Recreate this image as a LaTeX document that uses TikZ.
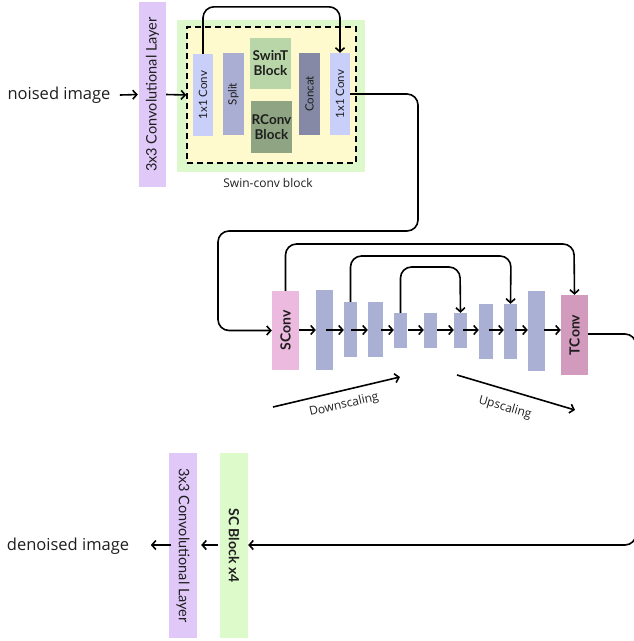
\documentclass[tikz,border=0pt]{standalone}
\usepackage{fontspec}
\usepackage{graphicx}
\setmainfont{Lato}
\newfontfamily\handfont{Open Sans}
\usetikzlibrary{arrows.meta,calc}
\definecolor{cPurple}{RGB}{224,200,248}
\definecolor{cGreenBg}{RGB}{221,248,203}
\definecolor{cYellow}{RGB}{255,250,205}
\definecolor{cLav}{RGB}{200,208,250}
\definecolor{cSplit}{RGB}{170,174,210}
\definecolor{cSwin}{RGB}{185,214,168}
\definecolor{cRconv}{RGB}{143,164,130}
\definecolor{cConcat}{RGB}{133,137,165}
\definecolor{cSconv}{RGB}{236,186,222}
\definecolor{cBar}{RGB}{170,176,212}
\definecolor{cTconv}{RGB}{210,155,190}
\definecolor{cSCB}{RGB}{220,250,202}
\definecolor{cText}{RGB}{30,30,30}
\begin{document}
\begin{tikzpicture}[x=1pt,y=-1pt,
  blk/.style={draw=none, inner sep=0pt, text=cText},
  medtxt/.style={font=\fontsize{11.5}{13}\selectfont},
  longtxt/.style={font=\fontsize{14.5}{16}\selectfont},
  boldtxt/.style={font=\bfseries\fontsize{13.5}{15}\selectfont},
  bigbold/.style={font=\bfseries\fontsize{14}{16}\selectfont},
  hand/.style={font=\handfont\fontsize{16.5}{19}\selectfont, text=cText},
  handsm/.style={font=\handfont\fontsize{12}{14}\selectfont, text=cText},
  conn/.style={line width=1.6pt, draw=black},
  arr/.style={conn, -{Straight Barb[length=4pt,width=9pt]}},
  rc/.style={rounded corners=11pt}
]
\useasboundingbox (0,0) rectangle (634,641);

% ---------------- top: input + swin-conv block ----------------
\node[hand] (noised) at (59,95) {noised image};
\node[blk, fill=cPurple, minimum width=27pt, minimum height=185pt, longtxt] (conv1) at (152.5,94.5)
      {\rotatebox{90}{3x3 Convolutional Layer}};

\node[blk, fill=cGreenBg, minimum width=188pt, minimum height=152pt] (swbg) at (271,96) {};
\node[draw=black, fill=cYellow, line width=1.6pt, dash pattern=on 6pt off 4pt,
      minimum width=169pt, minimum height=136pt, inner sep=0pt] (dash) at (271.5,95) {};
\node[handsm] (swlabel) at (268,183) {Swin-conv block};

\node[blk, fill=cLav, minimum width=20pt, minimum height=82pt, medtxt] (c1a) at (203,95)
      {\rotatebox{90}{1x1 Conv}};
\node[blk, fill=cSplit, minimum width=21pt, minimum height=82pt, medtxt] (split) at (233.5,94)
      {\rotatebox{90}{Split}};
\node[blk, fill=cSwin, minimum width=41pt, minimum height=51pt, boldtxt, align=center] (swint) at (270.5,63.5)
      {SwinT\\Block};
\node[blk, fill=cRconv, minimum width=41pt, minimum height=52pt, boldtxt, align=center] (rconv) at (271.5,127)
      {RConv\\Block};
\node[blk, fill=cConcat, minimum width=21pt, minimum height=82pt, medtxt] (concat) at (309.5,94)
      {\rotatebox{90}{Concat}};
\node[blk, fill=cLav, minimum width=20pt, minimum height=82pt, medtxt] (c1b) at (340,94)
      {\rotatebox{90}{1x1 Conv}};

\draw[arr, shorten >=1pt] (noised.east) ++(6,0) coordinate (nin) -- (conv1.west);
\draw[arr] (conv1.east) -- (dash.west);
\draw[arr, rc] (c1a.north) -- ++(0,-47) -| (c1b.north);

% ---------------- middle: U-Net ----------------
\node[blk, fill=cSconv, minimum width=27pt, minimum height=79pt, bigbold] (sconv) at (285.5,330.5)
      {\rotatebox{90}{SConv}};
\node[blk, fill=cBar, minimum width=17pt, minimum height=80pt] (b2) at (324.5,330) {};
\node[blk, fill=cBar, minimum width=13pt, minimum height=55pt] (b3) at (350.5,329.5) {};
\node[blk, fill=cBar, minimum width=15pt, minimum height=55pt] (b4) at (375.5,329.5) {};
\node[blk, fill=cBar, minimum width=13pt, minimum height=35pt] (b5) at (400.5,330.5) {};
\node[blk, fill=cBar, minimum width=13pt, minimum height=35pt] (b6) at (430.5,330.5) {};
\node[blk, fill=cBar, minimum width=13pt, minimum height=35pt] (b7) at (460.5,330.5) {};
\node[blk, fill=cBar, minimum width=14pt, minimum height=55pt] (b8) at (486,331.5) {};
\node[blk, fill=cBar, minimum width=13pt, minimum height=55pt] (b9) at (510.5,331.5) {};
\node[blk, fill=cBar, minimum width=17pt, minimum height=80pt] (b10) at (536.5,331) {};
\node[blk, fill=cTconv, minimum width=27pt, minimum height=80pt, bigbold] (tconv) at (574.5,335)
      {\rotatebox{90}{TConv}};

% input to the U-Net
\draw[arr, rc] (c1b.east) -| (418,231) -- (218,231) |- (sconv.west);

% row arrows
\draw[arr] (sconv.east |- 0,330) -- (b2.west |- 0,330);
\foreach \n/\s in {b3/326, b4/351, b5/381, b6/408, b7/437, b8/463, b9/489, b10/515, tconv/544}{
  \draw[arr] (\s,330) -- (\n.west |- 0,330);
}

% skip connections
\draw[arr, rc] (sconv.north) |- (574,244) -- (tconv.north);
\draw[arr, rc] (b3.north) |- (511,256) -- (b9.north);
\draw[arr, rc] (b5.north) |- (460,267) -- (b7.north);

% scaling arrows
\coordinate (ds1) at (273,407); \coordinate (ds2) at (400,377);
\coordinate (us1) at (457,375); \coordinate (us2) at (575,410);
\draw[arr] (ds1) -- (ds2);
\draw[arr] (us1) -- (us2);
\node[handsm, rotate=13] (dslab) at (344,405) {Downscaling};
\node[handsm, rotate=-16] (uslab) at (505,408) {Upscaling};

% ---------------- bottom ----------------
\node[blk, fill=cSCB, minimum width=28pt, minimum height=185pt, bigbold] (scb) at (234,545.5)
      {\rotatebox{-90}{SC Block x4}};
\node[blk, fill=cPurple, minimum width=28pt, minimum height=185pt, longtxt] (conv2) at (183,545.5)
      {\rotatebox{-90}{3x3 Convolutional Layer}};
\node[hand] (denoised) at (68,546) {denoised image};

\draw[arr, rc] (tconv.east |- 0,334) -| (636,545) -- (scb.east |- 0,545);
\draw[arr, shorten <=2pt, shorten >=4pt] (scb.west |- 0,545) -- (conv2.east |- 0,545);
\draw[arr, shorten <=-2pt] (conv2.west |- 0,545) coordinate (c2w) -- ++(-18,0) coordinate (outend);
\end{tikzpicture}
\end{document}
